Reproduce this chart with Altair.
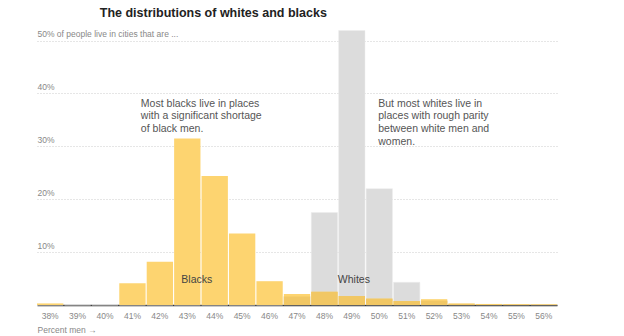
import altair as alt
import pandas as pd

bins = ["38%", "39%", "40%", "41%", "42%", "43%", "44%", "45%", "46%", "47%",
        "48%", "49%", "50%", "51%", "52%", "53%", "54%", "55%", "56%"]
blacks = [0.3, 0, 0, 4.1, 8.2, 31.5, 24.4, 13.5, 4.5, 2.1,
          2.5, 1.7, 1.2, 0.75, 1.1, 0.3, 0.2, 0.15, 0.1]
whites = [0, 0, 0, 0, 0, 0, 0, 0, 0, 1.6,
          17.5, 51.9, 22.0, 4.3, 0.8, 0.2, 0.1, 0.1, 0.1]

black_note = "Most blacks live in places\nwith a significant shortage\nof black men."
white_note = "But most whites live in\nplaces with rough parity\nbetween white men and\nwomen."
note_y = 39
label_y = 4.7

FONT = "Liberation Sans"

df = pd.DataFrame({"bin": bins, "blacks": blacks, "whites": whites})

xscale = alt.Scale(domain=bins, paddingInner=0.04, paddingOuter=0)
yscale = alt.Scale(domain=[0, 52], nice=False)

xenc = alt.X("bin:O", scale=xscale, sort=bins,
             axis=alt.Axis(title="Percent men \u2192", labelAngle=0, ticks=False,
                           domainColor="#333", domainWidth=1.5,
                           labelColor="#888", labelFontSize=8.5, labelFont=FONT,
                           labelPadding=6,
                           titleFont=FONT, titleFontSize=8.5, titleColor="#888",
                           titleFontWeight="normal", titleAnchor="start",
                           titleAlign="left", titlePadding=6))

yaxis = alt.Axis(title=None, values=[10, 20, 30, 40, 50], domain=False, ticks=False,
                 tickSize=0, labelAlign="left", labelBaseline="bottom",
                 labelPadding=0, labelOffset=-2, labelLimit=300,
                 labelColor="#888", labelFontSize=8.5, labelFont=FONT,
                 labelExpr="datum.value == 50 ? '50% of people live in cities that are ...' : datum.value + '%'",
                 grid=True, gridColor="#ccc", gridDash=[1, 2], gridWidth=1)

base = alt.Chart(df)
xplain = alt.X("bin:O", scale=xscale, sort=bins)

whites_bar = base.mark_bar(color="#dcdcdc", stroke="#ececec", strokeWidth=0.5).encode(
    x=xenc,
    y=alt.Y("whites:Q", scale=yscale, axis=yaxis),
)
blacks_bar = base.mark_bar(color="#fdd470").encode(
    x=xplain,
    y=alt.Y("blacks:Q", scale=yscale),
)
overlap_bar = base.transform_calculate(
    ov="min(datum.blacks, datum.whites)"
).mark_bar(color="#f1c764").encode(
    x=xplain,
    y=alt.Y("ov:Q", scale=yscale),
)


def note(text, bin_, y, dx, size=10.5, color="#555", align="left", baseline="top"):
    d = pd.DataFrame({"text": [text], "bin": [bin_], "y": [y]})
    return alt.Chart(d).mark_text(
        align=align, baseline=baseline, fontSize=size, font=FONT, color=color,
        lineBreak="\n", lineHeight=12.7, dx=dx
    ).encode(x=xplain, y=alt.Y("y:Q", scale=yscale), text="text:N")


notes = [
    note(black_note, "42%", note_y, -19),
    note(white_note, "50%", note_y, -1),
    note("Blacks", "43%", label_y, 9.5, size=10.5, color="#444", align="center", baseline="middle"),
    note("Whites", "49%", label_y, 2, size=10.5, color="#444", align="center", baseline="middle"),
]

chart = alt.layer(whites_bar, blacks_bar, overlap_bar, *notes).properties(
    width=520, height=275,
    padding={"left": 37, "top": 30, "right": 67, "bottom": 31},
    autosize=alt.AutoSizeParams(type="none"),
    title=alt.TitleParams("The distributions of whites and blacks", anchor="start",
                          dx=63, font=FONT, fontSize=12.5, fontWeight="bold",
                          color="#222", offset=10),
).configure_view(stroke=None)

chart.save("out.html", embed_options={"renderer": "svg", "actions": False})
